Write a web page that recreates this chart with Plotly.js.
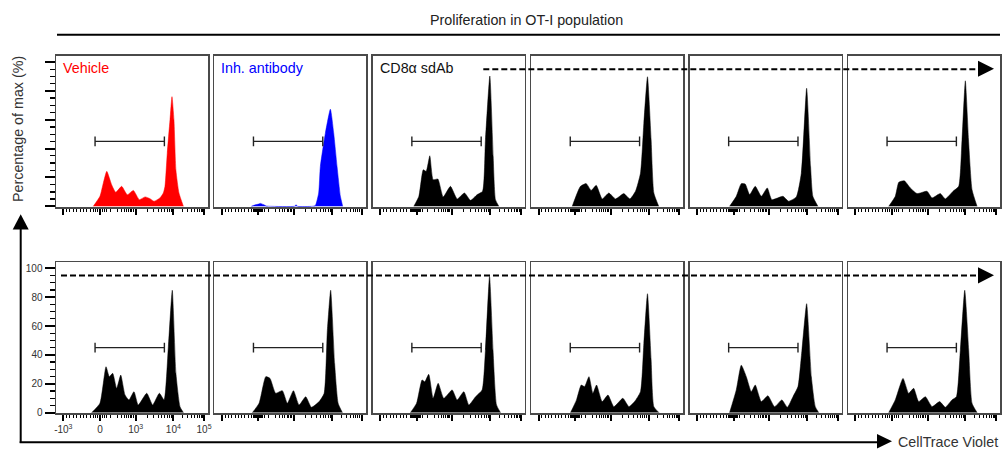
<!DOCTYPE html>
<html><head><meta charset="utf-8">
<script src="https://cdn.plot.ly/plotly-3.0.1.min.js"></script>
<style>html,body{margin:0;padding:0;background:#fff}#chart{width:1004px;height:464px}</style>
</head><body><div id="chart"></div>
<script>
// ---------- DATA (x = display channel 0-1000 on biexponential CellTrace Violet scale, y = % of max) ----------
const sampleNames = ['Vehicle','Inh. antibody','CD8\u03b1 sdAb','','','','','','','','',''];
const sampleColors = ['#ff0000','#0000ff','#000000','#000000','#000000','#000000','#000000','#000000','#000000','#000000','#000000','#000000'];

const vehX = [245,289,311,334,366,393,432,469,509,548,586,618,645,684,706,717,732,750,763,776,789,809,838];
const vehY = [0,6.9,16,24.2,15,9.7,13.8,8,11,4.6,6.5,5.3,3.5,5.8,9.2,13.8,36.9,60,76,60,25,9.2,0];

const inhX = [243,263,289,303,322,342,368,526,538,546,645,664,686,697,730,763,785,807,829,844];
const inhY = [0,0.8,1.5,2,1.2,0.2,0,0,1.0,0,0,0.5,9.2,27.6,50.7,67.3,50.7,27.6,6.9,0];

const sd1X = [270,303,332,351,375,397,428,463,511,555,603,643,687,722,741,770,792,807,829];
const sd1Y = [0,6.9,25.3,24.2,35,18.4,18.9,6.5,13.8,5.1,9.2,4.1,8.1,10.4,46,90.3,34.6,4.6,0];

const sd2X = [270,324,362,395,428,467,511,555,609,649,686,719,741,765,789,807,839];
const sd2Y = [0,13.8,15.7,11,14.5,5.1,9.2,5.1,8.8,5.1,10.4,23,57.6,89.8,46,9.2,0];

const sd3X = [263,307,340,366,395,432,472,511,541,614,651,702,735,770,796,811,844];
const sd3Y = [0,6.9,15.7,15.4,8.1,13.8,6.9,12.7,4.6,6.9,3.5,6.5,23,81.8,27.6,6.9,0];

const sd4X = [268,311,334,370,410,454,520,553,607,640,691,728,750,772,793,816,849];
const sd4Y = [0,6.9,16.6,17.7,12.7,8.8,10.4,5.8,8.8,5.1,10.4,13.8,46,87,46,11.5,0];

const sd5X = [235,289,329,351,373,399,426,454,480,513,541,597,636,680,711,739,765,789,816,838];
const sd5Y = [0,6.5,31.8,24.9,27.2,16.8,26,12.2,8.8,14.5,5.3,13.4,5.3,13.4,8.8,45.6,84.8,27.2,4.1,0];

const sd6X = [250,294,338,366,403,447,480,520,557,601,638,689,722,743,765,791,814,842];
const sd6Y = [0,6.5,24.9,23.7,13.4,15.2,6.5,15.2,5.3,11,3.7,7.6,13.4,57,84.8,34,6.5,0];

const sd7X = [248,288,324,342,368,397,430,467,522,555,599,632,676,719,741,768,791,814,840];
const sd7Y = [0,6.5,22.6,21.4,26.5,9.9,20.3,9.9,15.7,8.8,14.5,5.3,11,15.7,43.3,94.4,43.3,5.3,0];

const sd8X = [259,298,329,351,380,406,430,467,505,544,603,643,680,719,741,765,789,807,840];
const sd8Y = [0,8.8,19.1,18,24.9,13.4,19.1,7.6,12.2,4.1,9.9,4.1,7.6,14.5,47.9,82.4,36.4,4.1,0];

const sd9X = [263,307,340,373,406,432,472,515,559,607,643,680,713,739,770,801,827,849];
const sd9Y = [0,15.7,32.9,24.9,14.5,19.1,7.6,11.7,4.1,8.8,3.7,11,18,43.3,75.5,24.9,4.1,0];

const sd10X = [268,311,362,399,432,465,509,553,603,640,684,713,739,768,794,816,849];
const sd10Y = [0,8.8,23.7,13.4,16.8,7.6,11,4.1,7.6,3.7,8.8,11,43.3,84.8,43.3,6.5,0];

const gateX = [257,713];
const gateY = 45;

const xTickVals = [48,289,524,772,974];
const xTickText = ['-10<sup>3</sup>','0','10<sup>3</sup>','10<sup>4</sup>','10<sup>5</sup>'];
const xMinorVals = [70,92,114,136,158,180,201,224,245,257,263,270,276,283,296,303,309,316,329,358,403,430,450,464,478,489,499,507,599,642,673,697,717,734,748,761,833,868,894,913,929,943,954,965];
const yTickVals = [0,20,40,60,80,100];

const seriesX = [vehX,inhX,sd1X,sd2X,sd3X,sd4X,sd5X,sd6X,sd7X,sd8X,sd9X,sd10X];
const seriesY = [vehY,inhY,sd1Y,sd2Y,sd3Y,sd4Y,sd5Y,sd6Y,sd7Y,sd8Y,sd9Y,sd10Y];

// ---------- LAYOUT ----------
const W = 1004, H = 464;
const px = x => x / W, py = y => 1 - y / H;
const FONT = 'Liberation Sans, Arial, Helvetica, sans-serif';
const colLeft = [56, 214.4, 372.8, 531.2, 689.6, 848];
const panelW = 152;
const rowTop = [55.7, 262], rowBot = [207, 413.3];

const traces = [];
const layout = {
  width: W, height: H,
  margin: {l: 0, r: 0, t: 0, b: 0, pad: 0},
  paper_bgcolor: '#fff', plot_bgcolor: '#fff',
  showlegend: false,
  font: {family: FONT, color: '#333'},
  shapes: [], annotations: []
};

for (let i = 0; i < 12; i++) {
  const r = i < 6 ? 0 : 1, c = i % 6;
  const n = i === 0 ? '' : String(i + 1);
  const xa = 'x' + n, ya = 'y' + n;
  layout['xaxis' + n] = {
    domain: [px(colLeft[c]), px(colLeft[c] + panelW)],
    range: [0, 1000], anchor: ya, fixedrange: true,
    showline: true, mirror: true, linecolor: '#4a4a4a', linewidth: 1.5,
    showgrid: false, zeroline: false,
    ticks: 'outside', tickmode: 'array', tickvals: xTickVals, ticktext: xTickText,
    ticklen: 6, tickwidth: 2, tickcolor: '#000',
    minor: {tickmode: 'array', tickvals: xMinorVals, ticks: 'outside', ticklen: 3.5, tickwidth: 1, tickcolor: '#000', showgrid: false},
    showticklabels: i === 6,
    tickfont: {family: FONT, size: 10, color: '#333'}
  };
  const yax = {
    domain: [py(rowBot[r]), py(rowTop[r])],
    range: [-0.5, 104.4], anchor: xa, fixedrange: true,
    showline: true, mirror: true, linecolor: '#4a4a4a', linewidth: 1.5,
    showgrid: false, zeroline: false,
    showticklabels: i === 6,
    tickfont: {family: FONT, size: 10, color: '#333'}
  };
  if (c === 0) {
    Object.assign(yax, {
      ticks: 'outside', tickmode: 'array', tickvals: yTickVals,
      ticklen: 10, tickwidth: 2, tickcolor: '#000',
      minor: {tickmode: 'linear', tick0: 0, dtick: 5, ticks: 'outside', ticklen: 5, tickwidth: 1.3, tickcolor: '#000', showgrid: false}
    });
  } else {
    yax.ticks = '';
  }
  layout['yaxis' + n] = yax;

  traces.push({
    x: seriesX[i], y: seriesY[i], xaxis: xa, yaxis: ya,
    type: 'scatter', mode: 'lines', fill: 'tozeroy',
    fillcolor: sampleColors[i],
    line: {color: sampleColors[i], width: 0.5, shape: 'spline', smoothing: 0.5},
    hoverinfo: 'skip'
  });
  traces.push({
    x: gateX, y: [gateY, gateY], xaxis: xa, yaxis: ya,
    type: 'scatter', mode: 'lines+markers',
    line: {color: '#222', width: 1.4},
    marker: {symbol: 'line-ns', size: 7, line: {color: '#222', width: 1.4}},
    hoverinfo: 'skip'
  });

  if (sampleNames[i]) {
    layout.annotations.push({
      text: sampleNames[i], xref: 'paper', yref: 'paper',
      x: px(colLeft[c] + 5), y: py(67.5), xanchor: 'left', yanchor: 'middle',
      showarrow: false, font: {family: FONT, size: 14.3, color: sampleColors[i] === '#000000' ? '#111' : sampleColors[i]}
    });
  }
}

// Title and underline
layout.annotations.push({
  text: 'Proliferation in OT-I population', xref: 'paper', yref: 'paper',
  x: px(526.7), y: py(20), xanchor: 'center', yanchor: 'middle', showarrow: false,
  font: {family: FONT, size: 14.3, color: '#222'}
});
layout.shapes.push({type: 'line', xref: 'paper', yref: 'paper', x0: px(57), x1: px(1000), y0: py(34.7), y1: py(34.7), line: {color: '#000', width: 2}});

// Y title
layout.annotations.push({
  text: 'Percentage of max (%)', xref: 'paper', yref: 'paper',
  x: px(18), y: py(129), xanchor: 'center', yanchor: 'middle', textangle: -90, showarrow: false,
  font: {family: FONT, size: 14.3, color: '#333'}
});

// X title
layout.annotations.push({
  text: 'CellTrace Violet', xref: 'paper', yref: 'paper',
  x: px(896), y: py(442), xanchor: 'left', yanchor: 'middle', showarrow: false,
  font: {family: FONT, size: 14.3, color: '#333'}
});

// L-shaped axis arrows
layout.shapes.push({type: 'line', xref: 'paper', yref: 'paper', x0: px(20.7), x1: px(20.7), y0: py(443), y1: py(228), line: {color: '#000', width: 2}});
layout.shapes.push({type: 'line', xref: 'paper', yref: 'paper', x0: px(19.7), x1: px(878), y0: py(442.3), y1: py(442.3), line: {color: '#000', width: 2}});
const tri = pts => 'M ' + pts.map(p => px(p[0]) + ',' + py(p[1])).join(' L ') + ' Z';
layout.shapes.push({type: 'path', xref: 'paper', yref: 'paper', path: tri([[12.7, 229.5], [28.7, 229.5], [20.7, 214.3]]), fillcolor: '#000', line: {width: 0}});
layout.shapes.push({type: 'path', xref: 'paper', yref: 'paper', path: tri([[877, 434], [877, 448.6], [892, 441.3]]), fillcolor: '#000', line: {width: 0}});

// Dashed arrows across panels (at 95 % of max)
layout.shapes.push({type: 'line', xref: 'paper', yref: 'y3', x0: px(483.3), x1: px(979), y0: 95, y1: 95, line: {color: '#000', width: 2, dash: '6px,3px'}, layer: 'above'});
layout.shapes.push({type: 'line', xref: 'paper', yref: 'y7', x0: px(61), x1: px(979), y0: 95, y1: 95, line: {color: '#000', width: 2, dash: '6px,3px'}, layer: 'above'});
layout.shapes.push({type: 'path', xref: 'paper', yref: 'paper', path: tri([[978, 60.7], [978, 76.7], [994, 68.7]]), fillcolor: '#000', line: {width: 0}});
layout.shapes.push({type: 'path', xref: 'paper', yref: 'paper', path: tri([[978, 267.2], [978, 283.4], [994, 275.3]]), fillcolor: '#000', line: {width: 0}});

Plotly.newPlot('chart', traces, layout, {staticPlot: true, displayModeBar: false});
</script>
</body></html>
